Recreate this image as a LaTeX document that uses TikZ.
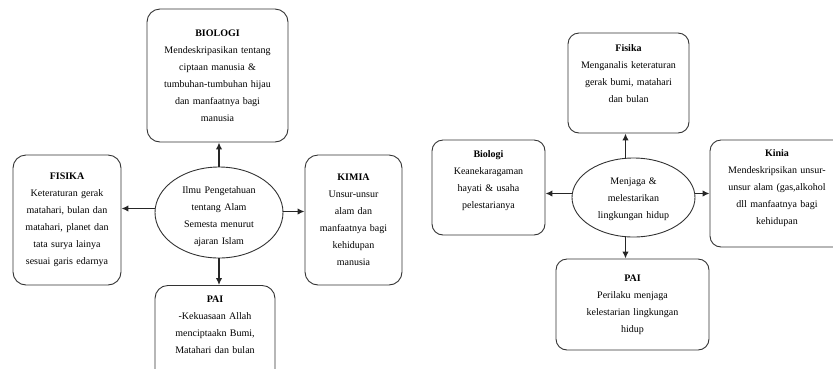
\documentclass[tikz,border=0pt]{standalone}
\usepackage{fontspec}
\setmainfont{Liberation Serif}
\usepackage{tikz}
\usetikzlibrary{shapes,arrows.meta}

\begin{document}
\begin{tikzpicture}
[x=1pt,y=-1pt]
\tikzset{
	topic/.style = {draw=black!80, line width=0.9pt, rounded corners=13pt, inner sep=0, align=center, font=\fontsize{10}{17}\selectfont},
	core/.style = {ellipse, draw=black!80, line width=0.9pt, inner sep=0, align=center, font=\fontsize{10}{17}\selectfont},
	link/.style = {line width=1.7pt, black!85, -{Latex[length=7pt,width=6.5pt]}}
}
\useasboundingbox (0,0) rectangle (833,368);

% left map
\node(ell1) [core, minimum width=128, minimum height=91, text width=80, text height=16pt, inner ysep=-4pt] at (219,212.5)
	{Ilmu Pengetahuan\\tentang Alam\\Semesta menurut\\ajaran Islam};
\node(bio1) [topic, minimum width=141, minimum height=133, text width=132] at (217.5,75.5)
	{\textbf{BIOLOGI}\\Mendeskripasikan tentang\\ciptaan manusia \&\\tumbuhan-tumbuhan hijau\\dan manfaatnya bagi\\manusia};
\node(fis1) [topic, minimum width=108, minimum height=130, text width=100] at (67,220)
	{\textbf{FISIKA}\\Keteraturan gerak\\matahari, bulan dan\\matahari, planet dan\\tata surya lainya\\sesuai garis edarnya};
\node(kim1) [topic, minimum width=97, minimum height=130, text width=90] at (353.5,220)
	{\textbf{KIMIA}\\Unsur-unsur\\alam dan\\manfaatnya bagi\\kehidupan\\manusia};
\node(pai1) [topic, anchor=north, minimum width=120, minimum height=100, text width=112, text depth=72pt] at (215,285)
	{\textbf{PAI}\\-Kekuasaan Allah\\menciptaakn Bumi,\\Matahari dan bulan};

% right map
\node(ell2) [core, minimum width=123, minimum height=79, text width=80, text height=11pt] at (633.5,197.5)
	{Menjaga \&\\melestarikan\\lingkungan hidup};
\node(fis2) [topic, rounded corners=11pt, minimum width=121, minimum height=100, text width=114, text depth=69pt] at (628.5,83)
	{\textbf{Fisika}\\Menganalis keteraturan\\gerak bumi, matahari\\dan bulan};
\node(bio2) [topic, rounded corners=11pt, minimum width=113, minimum height=95, text width=106, text depth=67pt] at (488.5,187.5)
	{\textbf{Biologi}\\Keanekaragaman\\hayati \& usaha\\pelestarianya};
\node(kim2) [topic, rounded corners=11pt, minimum width=134, minimum height=107, text width=126, text depth=80pt] at (777,193.5)
	{\textbf{Kinia}\\Mendeskripsikan unsur-\\unsur alam (gas,alkohol\\dll manfaatnya bagi\\kehidupan};
\node(pai2) [topic, rounded corners=11pt, minimum width=153, minimum height=91, text width=145] at (632.5,304.5)
	{\textbf{PAI}\\Perilaku menjaga\\kelestarian lingkungan\\hidup};

\draw[link] (ell1.north) -- (ell1.north |- bio1.south);
\draw[link] (ell1.south) -- (ell1.south |- pai1.north);
\draw[link] ([yshift=4pt]ell1.west) -- ([yshift=4pt]ell1.west -| fis1.east);
\draw[link] ([yshift=1pt]ell1.east) -- ([yshift=1pt]ell1.east -| kim1.west);

\draw[link] ([xshift=-8pt]ell2.north) -- ([xshift=-8pt]ell2.north |- fis2.south);
\draw[link] ([xshift=-8pt]ell2.south) -- ([xshift=-8pt]ell2.south |- pai2.north);
\draw[link] ([yshift=4pt]ell2.west) -- ([yshift=4pt]ell2.west -| bio2.east);
\draw[link] ([yshift=4pt]ell2.east) -- ([yshift=4pt]ell2.east -| kim2.west);
\end{tikzpicture}
\end{document}
